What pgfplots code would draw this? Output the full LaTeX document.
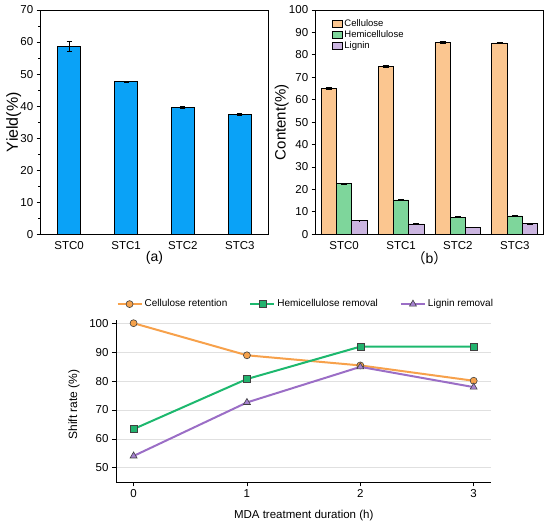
\documentclass[border=0pt]{standalone}
\usepackage{fontspec}
\setmainfont{Liberation Sans}
\newfontfamily\cjk{Noto Sans CJK SC}
\usepackage{pgfplots}
\pgfplotsset{compat=1.18}
\definecolor{barA}{HTML}{0AA2F7}
\definecolor{cel}{HTML}{FBC690}
\definecolor{hemi}{HTML}{7ED69B}
\definecolor{lig}{HTML}{CBB5E0}
\definecolor{lorange}{HTML}{F7A14B}
\definecolor{lgreen}{HTML}{1DB86E}
\definecolor{lpurple}{HTML}{9B6EC6}
\definecolor{morange}{HTML}{F5A24C}
\definecolor{mgreen}{HTML}{22B36E}
\definecolor{mpurple}{HTML}{A582CF}
\begin{document}
\begin{tikzpicture}
\path[use as bounding box] (0,0) rectangle (550pt,527pt);
% ---------------- (a)
\begin{axis}[
  at={(40.7pt,292.7pt)}, anchor=south west, scale only axis,
  width=227.6pt, height=224.3pt,
  xmin=-0.5, xmax=3.5, ymin=0, ymax=70, enlargelimits=false,
  ybar, bar width=23.4pt,
  xtick={0,1,2,3}, xticklabels={STC0,STC1,STC2,STC3},
  xtick style={draw=none},
  ytick={0,10,...,70}, minor y tick num=1, ytick pos=left,
  tick align=outside, major tick length=4pt, minor tick length=2.5pt,
  axis line style={line width=0.9pt}, every tick/.style={line width=0.8pt, black},
  tick label style={font=\fontsize{11.5}{13}\selectfont},
  /pgf/number format/assume math mode=true,
  ylabel={Yield(\%)}, xlabel={(a)},
  every axis y label/.style={at={(axis description cs:-0.119,0.5)}, rotate=90, anchor=center, font=\fontsize{16}{18}\selectfont},
  every axis x label/.style={at={(axis description cs:0.5,-0.107)}, anchor=center, font=\fontsize{14}{16}\selectfont},
]
\addplot[fill=barA, draw=black, line width=0.8pt,
  error bars/.cd, y dir=both, y explicit,
  error bar style={line width=0.8pt, black},
  error mark options={rotate=90, mark size=2.5pt, line width=0.8pt, black}]
  coordinates {(0,58.7) +- (0,1.6) (1,47.6) +- (0,0.2) (2,39.6) +- (0,0.3) (3,37.5) +- (0,0.3)};
\end{axis}
% ---------------- (b)
\begin{axis}[
  at={(315.7pt,292.7pt)}, anchor=south west, scale only axis,
  width=227.6pt, height=224.3pt,
  xmin=-0.5, xmax=3.5, ymin=0, ymax=100, enlargelimits=false,
  ybar=0pt, bar width=15.3pt,
  xtick={0,1,2,3}, xticklabels={STC0,STC1,STC2,STC3},
  xtick style={draw=none},
  ytick={0,10,...,100}, ytick pos=left,
  tick align=outside, major tick length=4pt,
  axis line style={line width=0.9pt}, every tick/.style={line width=0.8pt, black},
  tick label style={font=\fontsize{11.5}{13}\selectfont},
  /pgf/number format/assume math mode=true,
  ylabel={Content(\%)}, xlabel={{\cjk （}b{\cjk ）}},
  every axis y label/.style={at={(axis description cs:-0.149,0.5)}, rotate=90, anchor=center, font=\fontsize{15}{17}\selectfont},
  every axis x label/.style={at={(axis description cs:0.5,-0.107)}, anchor=center, font=\fontsize{14}{16}\selectfont},
  legend cell align=left,
  legend style={at={(axis description cs:0.07,0.965)}, anchor=north west, draw=none, fill=none,
    font=\fontsize{9.5}{11}\selectfont, row sep=-1.5pt, inner sep=0pt},
  legend image code/.code={\draw[#1, draw=black, line width=0.6pt] (0pt,-3.5pt) rectangle (10pt,3.5pt);},
  error bars/error bar style={line width=0.8pt, black},
  error bars/error mark options={rotate=90, mark size=3pt, line width=0.8pt, black},
]
\addplot[fill=cel, draw=black, line width=0.8pt, error bars/.cd, y dir=both, y explicit]
  coordinates {(0,65.2) +- (0,0.4) (1,74.9) +- (0,0.4) (2,85.6) +- (0,0.3) (3,85.3) +- (0,0.3)};
\addplot[fill=hemi, draw=black, line width=0.8pt, error bars/.cd, y dir=both, y explicit]
  coordinates {(0,22.6) +- (0,0.2) (1,15.3) +- (0,0.2) (2,7.6) +- (0,0.2) (3,8.2) +- (0,0.2)};
\addplot[fill=lig, draw=black, line width=0.8pt, error bars/.cd, y dir=both, y explicit]
  coordinates {(0,6.1) +- (0,0.1) (1,4.6) +- (0,0.1) (2,3.1) +- (0,0.1) (3,4.7) +- (0,0.1)};
\legend{Cellulose,Hemicellulose,Lignin}
\end{axis}
% ---------------- (c)
\begin{axis}[
  at={(116pt,44.7pt)}, anchor=south west, scale only axis,
  width=374.7pt, height=162pt,
  xmin=-0.155, xmax=3.15, ymin=45, ymax=101, enlargelimits=false,
  axis x line=bottom, axis y line=left,
  axis line style={-, line width=0.9pt},
  xtick={0,1,2,3}, ytick={50,60,...,100},
  tick align=outside, major tick length=4pt,
  every tick/.style={line width=0.8pt, black},
  ymajorgrids, grid style={line width=0.8pt, black!12},
  tick label style={font=\fontsize{11.5}{13}\selectfont},
  /pgf/number format/assume math mode=true,
  ylabel={Shift rate (\%)}, xlabel={MDA treatment duration (h)},
  every axis y label/.style={at={(axis description cs:-0.112,0.48)}, rotate=90, anchor=center, font=\fontsize{12}{14}\selectfont},
  every axis x label/.style={at={(axis description cs:0.501,-0.208)}, anchor=center, font=\fontsize{11.5}{13}\selectfont},
  legend columns=3,
  legend style={at={(axis description cs:0.5065,1.10)}, anchor=center, draw=none, fill=none,
    font=\fontsize{10}{12}\selectfont, inner sep=0pt,
    /tikz/every even column/.append style={column sep=20pt}},
  legend image code/.code={\draw[mark repeat=2,mark phase=2,#1] plot coordinates {(0pt,0pt) (12pt,0pt) (24pt,0pt)};},
]
\addplot[lorange, line width=2pt, mark=*, mark size=3.5pt, mark options={fill=morange, draw=black!75, line width=0.6pt}]
  coordinates {(0,100) (1,88.9) (2,85.4) (3,80.1)};
\addplot[lgreen, line width=2pt, mark=square*, mark size=3.5pt, mark options={fill=mgreen, draw=black!75, line width=0.6pt}]
  coordinates {(0,63.4) (1,80.7) (2,91.9) (3,91.9)};
\addplot[lpurple, line width=2pt, mark=triangle*, mark size=4pt, mark options={fill=mpurple, draw=black!75, line width=0.6pt}]
  coordinates {(0,54.1) (1,72.6) (2,84.9) (3,77.9)};
\legend{Cellulose retention,Hemicellulose removal,Lignin removal}
\node[font=\fontsize{13}{15}\selectfont, anchor=center] at (axis description cs:-0.136,1.10) {(c)};
\end{axis}
\end{tikzpicture}
\end{document}
